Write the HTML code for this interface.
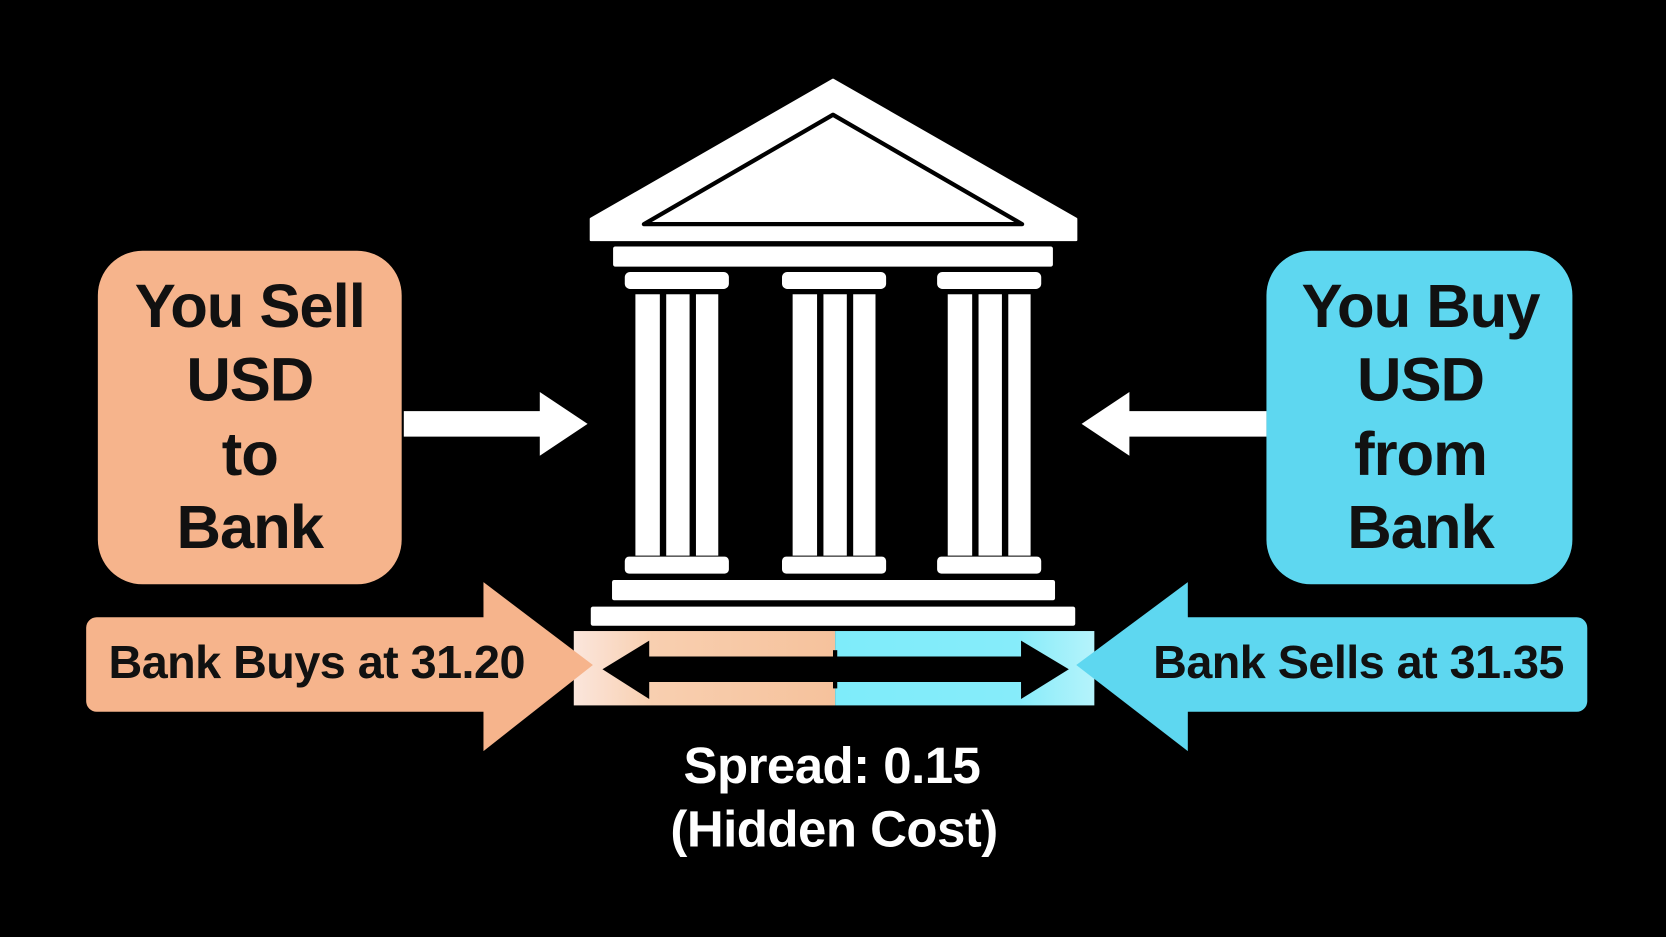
<!DOCTYPE html>
<html><head><meta charset="utf-8"><style>
html,body{margin:0;padding:0;background:#000;}
svg{display:block;}
text{font-family:"Liberation Sans",sans-serif;font-weight:bold;}
</style></head><body>
<svg width="1666" height="937" viewBox="0 0 1568 882" xmlns="http://www.w3.org/2000/svg">
<defs>
<linearGradient id="gl" x1="0" x2="1" y1="0" y2="0">
<stop offset="0" stop-color="#fbe6dc"/><stop offset="0.3" stop-color="#f8cfb0"/><stop offset="1" stop-color="#f6c29c"/></linearGradient>
<linearGradient id="gr" x1="0" x2="1" y1="0" y2="0">
<stop offset="0" stop-color="#7eecfa"/><stop offset="0.7" stop-color="#86ecfa"/><stop offset="1" stop-color="#b5f3fb"/></linearGradient>
</defs>
<rect width="1568" height="882" fill="#000"/>

<path d="M784 75 L1013 206 L1013 226 L556 226 L556 206 Z" fill="#fff" stroke="#fff" stroke-width="2" stroke-linejoin="round"/>
<path d="M784 108 L962 211 L606 211 Z" fill="#fff" stroke="#000" stroke-width="4" stroke-linejoin="round"/>
<rect x="577" y="232" width="414" height="19" rx="2" fill="#fff"/>
<rect x="588" y="256" width="98" height="16" rx="5" fill="#fff"/>
<rect x="736" y="256" width="98" height="16" rx="5" fill="#fff"/>
<rect x="882" y="256" width="98" height="16" rx="5" fill="#fff"/>
<g fill="#fff">
<rect x="598" y="277" width="23" height="246"/><rect x="627" y="277" width="22" height="246"/><rect x="655" y="277" width="21" height="246"/>
<rect x="746" y="277" width="23" height="246"/><rect x="775" y="277" width="22" height="246"/><rect x="803" y="277" width="21" height="246"/>
<rect x="892" y="277" width="23" height="246"/><rect x="921" y="277" width="22" height="246"/><rect x="949" y="277" width="21" height="246"/>
</g>
<rect x="588" y="524" width="98" height="16" rx="4" fill="#fff"/>
<rect x="736" y="524" width="98" height="16" rx="4" fill="#fff"/>
<rect x="882" y="524" width="98" height="16" rx="4" fill="#fff"/>
<rect x="576" y="546" width="417" height="19" rx="2" fill="#fff"/>
<rect x="556" y="571" width="456" height="18" rx="2" fill="#fff"/>

<rect x="540" y="594" width="246" height="70" fill="url(#gl)"/>
<rect x="786" y="594" width="244" height="70" fill="url(#gr)"/>
<path d="M567 630 L611 603 L611 618 L961 618 L961 603 L1006 630 L961 658 L961 642 L611 642 L611 658 Z" fill="#000"/>
<rect x="784" y="612" width="4" height="36" fill="#000"/>

<rect x="92" y="236" width="286" height="314" rx="42" fill="#f6b48c"/>
<g font-size="58" fill="#111" text-anchor="middle" letter-spacing="-1">
<text x="235" y="308">You Sell</text>
<text x="235" y="377">USD</text>
<text x="235" y="447">to</text>
<text x="235" y="516">Bank</text>
</g>
<rect x="1192" y="236" width="288" height="314" rx="42" fill="#5ed7f0"/>
<g font-size="58" fill="#111" text-anchor="middle" letter-spacing="-1">
<text x="1337" y="308">You Buy</text>
<text x="1337" y="377">USD</text>
<text x="1337" y="447">from</text>
<text x="1337" y="516">Bank</text>
</g>

<path d="M380 387 L508 387 L508 369 L553 399 L508 429 L508 411 L380 411 Z" fill="#fff"/>
<path d="M1192 387 L1063 387 L1063 369 L1018 399 L1063 429 L1063 411 L1192 411 Z" fill="#fff"/>

<rect x="81" y="581" width="400" height="89" rx="10" fill="#f6b48c"/>
<path d="M455 548 L558 626 L455 707 Z" fill="#f6b48c"/>
<text x="102" y="638" font-size="44" fill="#111" letter-spacing="-0.5">Bank Buys at 31.20</text>
<rect x="1100" y="581" width="394" height="89" rx="10" fill="#5ed7f0"/>
<path d="M1118 548 L1013 626 L1118 707 Z" fill="#5ed7f0"/>
<text x="1472" y="638" font-size="44" fill="#111" text-anchor="end" letter-spacing="-0.5">Bank Sells at 31.35</text>

<g font-size="48" fill="#fff" text-anchor="middle" letter-spacing="-0.5">
<text x="783" y="737">Spread: 0.15</text>
<text x="785" y="797">(Hidden Cost)</text>
</g>
</svg>
</body></html>
